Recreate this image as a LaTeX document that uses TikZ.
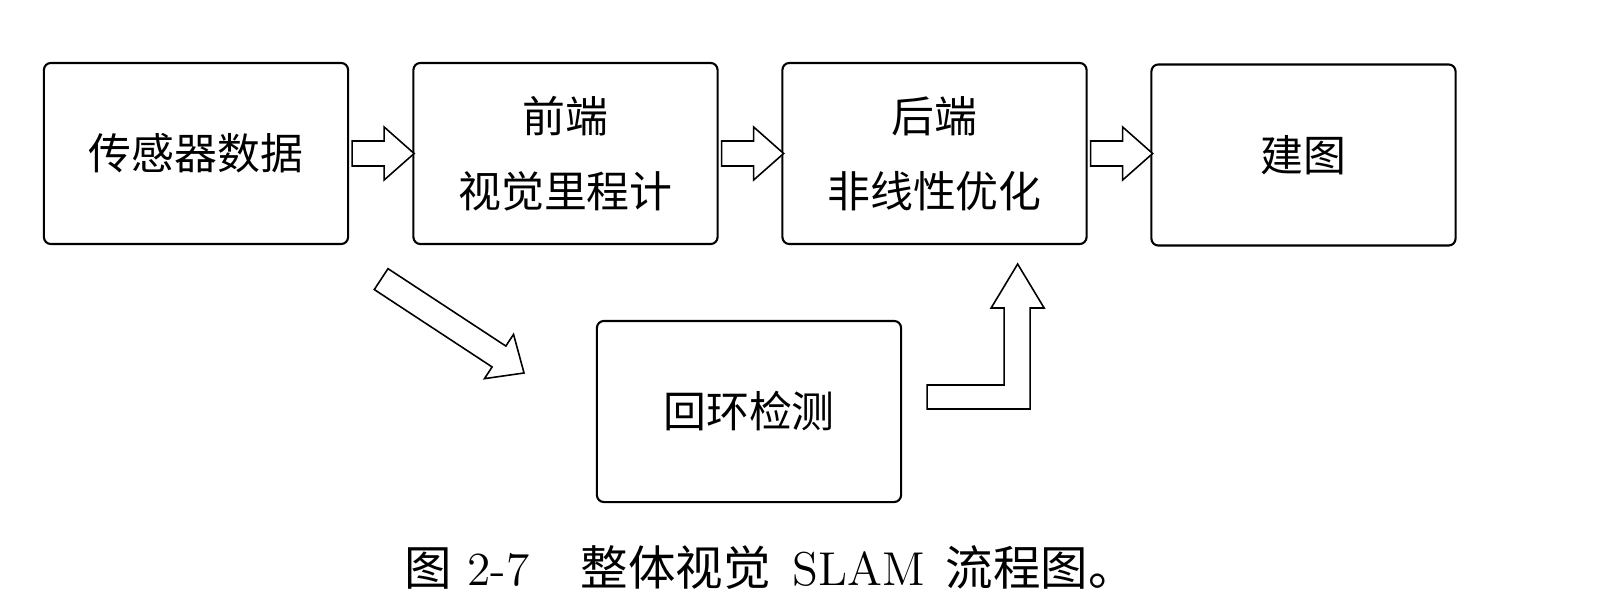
\documentclass[tikz,border=0pt]{standalone}
\usepackage{fontspec}
\newfontfamily\cjk{Noto Sans CJK SC}
\usetikzlibrary{calc}

\tikzset{
  stagebox/.style={draw, line width=0.6pt, rounded corners=0.07cm,
    minimum width=3.04cm, minimum height=1.81cm, inner sep=0pt,
    align=center, font=\cjk\fontsize{12.2}{21.3}\selectfont},
  blockline/.style={draw, line width=0.45pt, line join=miter, fill=white}
}

% hollow block arrow: start, angle, length
\newcommand{\hollowarrow}[3]{%
  \begin{scope}[shift={(#1)}, rotate=#2]
    \draw[blockline] (0,-12.5) -- ({#3-30},-12.5) -- ({#3-30},-26.5) -- (#3,0)
      -- ({#3-30},26.5) -- ({#3-30},12.5) -- (0,12.5) -- cycle;
  \end{scope}}

\begin{document}
\begin{tikzpicture}[x=0.01cm, y=-0.01cm]
    \useasboundingbox (0,0) rectangle (1617,615);

    % upper row
    \node[stagebox] (sensor) at (196,153.5) {传感器数据};
    \node[stagebox] (front)  at (565.5,153.5) {前端\\视觉里程计};
    \node[stagebox] (back)   at (934.5,153.5) {后端\\非线性优化};
    \node[stagebox] (map)    at (1303.5,155) {建图};

    % lower box
    \node[stagebox] (loop) at (749,411.5) {回环检测};

    % arrows between the boxes
    \hollowarrow{$(sensor.east)+(3,0)$}{0}{62}
    \hollowarrow{$(front.east)+(3,0)$}{0}{62}
    \hollowarrow{$(back.east)+(3,0)$}{0}{62}
    \hollowarrow{$(sensor.south east)+(32,34)$}{-33.3}{171}

    % bent arrow up to the back end
    \coordinate (bend) at ($(loop.east)+(25,-26.5)$);
    \draw[blockline] ($(bend)+(0,24)$) -- (bend) -- ++(77,0) -- ++(0,-77)
      -- ++(-13,0) -- ++(26.5,-44) -- ++(26.5,44) -- ++(-14,0)
      -- ++(0,101) -- cycle;

    % caption
    \node[font=\fontsize{13.5}{16}\selectfont, anchor=base west, inner sep=0pt]
      (caption) at (404,585)
      {{\cjk 图}\hspace{4.4pt}2-7\hspace{14.5pt}{\cjk 整体视觉}\hspace{6.2pt}SLAM\hspace{6pt}{\cjk 流程图。}};
\end{tikzpicture}
\end{document}
